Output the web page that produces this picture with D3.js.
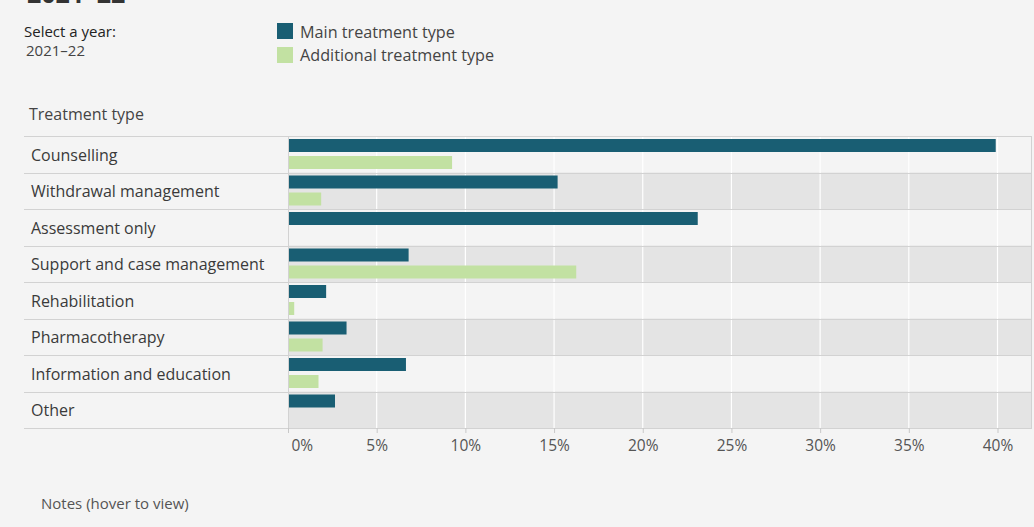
<!DOCTYPE html>
<html>
<head>
<meta charset="utf-8">
<script src="https://cdn.jsdelivr.net/npm/d3@7"></script>
<style>
  html, body { margin: 0; padding: 0; background: #f4f4f4; }
  svg { display: block; }
  text { font-family: "Open Sans", "Noto Sans", sans-serif; }
</style>
</head>
<body>
<svg id="chart" width="1034" height="527"></svg>
<script>
const categories = [
  "Counselling",
  "Withdrawal management",
  "Assessment only",
  "Support and case management",
  "Rehabilitation",
  "Pharmacotherapy",
  "Information and education",
  "Other"
];
const seriesNames = ["Main treatment type", "Additional treatment type"];
const mainValues = [39.9, 15.2, 23.1, 6.8, 2.15, 3.3, 6.65, 2.65];
const additionalValues = [9.25, 1.87, 0, 16.25, 0.35, 1.95, 1.72, 0];
const tickValues = [0, 5, 10, 15, 20, 25, 30, 35, 40];
const yearLabel = "2021–22";

(function () {
const colors = { main: "#195e73", add: "#c2e1a2" };

const svg = d3.select("#chart");
const W = 1034, H = 527;
svg.append("rect").attr("width", W).attr("height", H).attr("fill", "#f4f4f4");

// layout
const tableLeft = 24, plotLeft = 288, plotRight = 1032, plotTop = 136, plotBottom = 428;

const x = d3.scaleLinear().domain([0, 40]).range([plotLeft, 997.5]);
const y = d3.scaleBand().domain(categories).range([plotTop, plotBottom]);

// cut-off title
svg.append("text").attr("x", 27).attr("y", 3)
  .attr("font-size", 25).attr("font-weight", "bold").attr("fill", "#333")
  .text(yearLabel);

// year selector
svg.append("text").attr("x", 24).attr("y", 37)
  .attr("font-size", 15).attr("fill", "#222").text("Select a year:");
svg.append("text").attr("x", 26).attr("y", 56)
  .attr("font-size", 15).attr("fill", "#444").text(yearLabel);

// legend
const legend = svg.append("g");
seriesNames.forEach((name, i) => {
  legend.append("rect").attr("x", 277).attr("y", 23 + i * 24)
    .attr("width", 16).attr("height", 16)
    .attr("fill", i === 0 ? colors.main : colors.add);
  legend.append("text").attr("x", 300).attr("y", 37.5 + i * 23.5)
    .attr("font-size", 16.2).attr("fill", "#444").text(name);
});

// header
svg.append("text").attr("x", 29).attr("y", 120)
  .attr("font-size", 16).attr("fill", "#444").text("Treatment type");

// row bands in plot
svg.append("g").selectAll("rect").data(categories).join("rect")
  .attr("x", plotLeft).attr("y", d => y(d))
  .attr("width", plotRight - plotLeft).attr("height", y.bandwidth())
  .attr("fill", (d, i) => i % 2 === 1 ? "#e4e4e4" : "#f4f4f4");

// vertical gridlines
svg.append("g").selectAll("line").data(tickValues.slice(1)).join("line")
  .attr("x1", d => x(d)).attr("x2", d => x(d))
  .attr("y1", plotTop).attr("y2", plotBottom)
  .attr("stroke", "#ffffff").attr("stroke-width", 1.2);

// bars
const barH = 13;
svg.append("g").selectAll("rect").data(categories).join("rect")
  .attr("x", x(0)).attr("y", d => y(d) + 3)
  .attr("width", (d, i) => x(mainValues[i]) - x(0)).attr("height", barH)
  .attr("fill", colors.main);
svg.append("g").selectAll("rect").data(categories).join("rect")
  .attr("x", x(0)).attr("y", d => y(d) + 20)
  .attr("width", (d, i) => x(additionalValues[i]) - x(0)).attr("height", barH)
  .attr("fill", colors.add);

// row separators
const seps = categories.map(d => y(d)).concat([plotBottom]);
svg.append("g").selectAll("line").data(seps).join("line")
  .attr("x1", tableLeft).attr("x2", plotRight)
  .attr("y1", d => Math.round(d) + 0.5).attr("y2", d => Math.round(d) + 0.5)
  .attr("stroke", "#d2d2d2").attr("stroke-width", 1);

// plot left & right borders
svg.append("line").attr("x1", plotLeft + 0.5).attr("x2", plotLeft + 0.5)
  .attr("y1", plotTop).attr("y2", plotBottom).attr("stroke", "#d2d2d2");
svg.append("line").attr("x1", plotRight - 0.5).attr("x2", plotRight - 0.5)
  .attr("y1", plotTop).attr("y2", plotBottom).attr("stroke", "#d2d2d2");

// category labels
svg.append("g").selectAll("text").data(categories).join("text")
  .attr("x", 31).attr("y", d => y(d) + y.bandwidth() / 2)
  .attr("dy", "0.42em").attr("font-size", 16).attr("fill", "#3a3a3a")
  .text(d => d);

// x axis
const axis = d3.axisBottom(x).tickValues(tickValues)
  .tickFormat(d => d + "%").tickSize(5).tickPadding(7);
const ax = svg.append("g").attr("transform", `translate(0,${plotBottom})`).call(axis);
ax.select(".domain").remove();
ax.selectAll(".tick line").attr("stroke", "#c8c8c8");
ax.selectAll(".tick text").attr("font-size", 15.5).attr("fill", "#555")
  .attr("font-family", "'Open Sans', 'Noto Sans', sans-serif");
ax.selectAll(".tick text").filter(d => d === 0)
  .attr("text-anchor", "start").attr("dx", 3);

// notes
svg.append("text").attr("x", 41).attr("y", 509)
  .attr("font-size", 15).attr("fill", "#555").text("Notes (hover to view)");
})();
</script>
</body>
</html>
